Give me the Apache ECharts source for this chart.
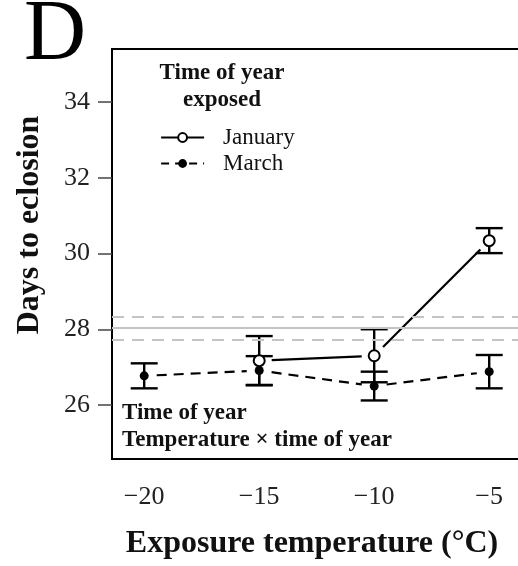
<!DOCTYPE html>
<html>
<head>
<meta charset="utf-8">
<script src="https://cdn.jsdelivr.net/npm/echarts@6/dist/echarts.min.js"></script>
<style>html,body{margin:0;padding:0;background:#fff;}#c{width:518px;height:566px;}</style>
</head>
<body>
<div id="c"></div>
<script>
// ---- data ----
const janTemps = [-15, -10, -5];
const janMean = [27.17, 27.30, 30.34];
const janErr = [0.65, 0.70, 0.33];
const marTemps = [-20, -15, -10, -5];
const marMean = [26.77, 26.91, 26.50, 26.88];
const marErr = [0.33, 0.38, 0.38, 0.44];
const refMean = 28.03;
const refBand = [27.73, 28.33];
const yTicks = [26, 28, 30, 32, 34];
const xTicks = [-20, -15, -10, -5];
const seriesNames = ['January', 'March'];

const serif = '"Liberation Serif", "Times New Roman", serif';

function errData(xs, m, e) {
  return xs.map((x, i) => [x, m[i] - e[i], m[i] + e[i]]);
}
function segData(xs, m) {
  return xs.slice(0, -1).map((x, i) => [x, m[i], xs[i + 1], m[i + 1]]);
}
function errRender(params, api) {
  const x = api.value(0);
  const lo = api.coord([x, api.value(1)]);
  const hi = api.coord([x, api.value(2)]);
  const hw = 13.5;
  const st = { stroke: '#000', lineWidth: 2.4 };
  return {
    type: 'group',
    children: [
      { type: 'line', shape: { x1: lo[0], y1: lo[1], x2: hi[0], y2: hi[1] }, style: st },
      { type: 'line', shape: { x1: lo[0] - hw, y1: lo[1], x2: lo[0] + hw, y2: lo[1] }, style: st },
      { type: 'line', shape: { x1: hi[0] - hw, y1: hi[1], x2: hi[0] + hw, y2: hi[1] }, style: st }
    ]
  };
}
function segRenderer(dash) {
  return function (params, api) {
    const a = api.coord([api.value(0), api.value(1)]);
    const b = api.coord([api.value(2), api.value(3)]);
    const dx = b[0] - a[0], dy = b[1] - a[1];
    const len = Math.sqrt(dx * dx + dy * dy);
    const gap = 12.5;
    const ux = dx / len, uy = dy / len;
    return {
      type: 'line',
      shape: { x1: a[0] + ux * gap, y1: a[1] + uy * gap, x2: b[0] - ux * gap, y2: b[1] - uy * gap },
      style: { stroke: '#000', lineWidth: 2.2, lineDash: dash }
    };
  };
}

const chart = echarts.init(document.getElementById('c'), null, { renderer: 'canvas' });
chart.setOption({
  animation: false,
  backgroundColor: '#fff',
  grid: {
    left: 112, top: 49, width: 414, height: 410,
    outerBoundsMode: 'none', containLabel: false,
    show: true, borderColor: '#000', borderWidth: 2, backgroundColor: 'transparent'
  },
  xAxis: {
    type: 'value', min: -21.4, max: -3.4,
    splitLine: { show: false },
    axisLine: { show: false },
    axisTick: { show: false },
    axisLabel: {
      customValues: xTicks,
      fontFamily: serif, fontSize: 26, color: '#222', margin: 25,
      formatter: v => String(v).replace('-', '\u2212')
    }
  },
  yAxis: {
    type: 'value', min: 24.574, max: 35.40,
    splitLine: { show: false },
    axisLine: { show: true, lineStyle: { color: '#000', width: 2 } },
    axisTick: { show: true, customValues: yTicks, length: 14, lineStyle: { color: '#444', width: 1.5 } },
    axisLabel: { customValues: yTicks, fontFamily: serif, fontSize: 26, color: '#222', margin: 22 }
  },
  legend: {
    show: true,
    data: [
      { name: seriesNames[0], lineStyle: { color: '#000', width: 2.2, type: 'solid', opacity: 1 } },
      { name: seriesNames[1], lineStyle: { color: '#000', width: 2.2, type: [8, 6], opacity: 1 } }
    ],
    orient: 'vertical',
    left: 155, top: 121,
    itemWidth: 43, itemHeight: 11, itemGap: 3,
    textStyle: { fontFamily: serif, fontSize: 23, color: '#111', padding: [0, 0, 0, 14] }
  },
  graphic: [
    { type: 'text', x: 24, y: 36, style: { text: 'D', font: 'normal 86px ' + serif, fill: '#000', textAlign: 'left', textVerticalAlign: 'middle' } },
    { type: 'text', x: 30, y: 225, rotation: Math.PI / 2, style: { text: 'Days to eclosion', font: 'bold 32px ' + serif, fill: '#111', textAlign: 'center', textVerticalAlign: 'middle' } },
    { type: 'text', x: 312, y: 544, style: { text: 'Exposure temperature (\u00B0C)', font: 'bold 32px ' + serif, fill: '#111', textAlign: 'center', textVerticalAlign: 'middle' } },
    { type: 'text', x: 222, y: 73, style: { text: 'Time of year', font: 'bold 23px ' + serif, fill: '#111', textAlign: 'center', textVerticalAlign: 'middle' } },
    { type: 'text', x: 222, y: 100, style: { text: 'exposed', font: 'bold 23px ' + serif, fill: '#111', textAlign: 'center', textVerticalAlign: 'middle' } },
    { type: 'text', x: 122, y: 413, style: { text: 'Time of year', font: 'bold 23px ' + serif, fill: '#111', textAlign: 'left', textVerticalAlign: 'middle' } },
    { type: 'text', x: 122, y: 440, style: { text: 'Temperature \u00D7 time of year', font: 'bold 23px ' + serif, fill: '#111', textAlign: 'left', textVerticalAlign: 'middle' } }
  ],
  series: [
    {
      name: 'ref', type: 'line', data: [], silent: true,
      markLine: {
        silent: true, symbol: 'none', label: { show: false },
        data: [
          { yAxis: refMean, lineStyle: { color: '#c4c4c4', width: 2, type: 'solid' } },
          { yAxis: refBand[0], lineStyle: { color: '#c4c4c4', width: 2, type: [12, 8] } },
          { yAxis: refBand[1], lineStyle: { color: '#c4c4c4', width: 2, type: [12, 8] } }
        ]
      }
    },
    { name: 'errMar', type: 'custom', renderItem: errRender, data: errData(marTemps, marMean, marErr), z: 3 },
    { name: 'errJan', type: 'custom', renderItem: errRender, data: errData(janTemps, janMean, janErr), z: 3 },
    {
      name: 'segMar', type: 'custom', renderItem: segRenderer([10, 7]),
      encode: { x: [0, 2], y: [1, 3] }, data: segData(marTemps, marMean), z: 3
    },
    {
      name: 'segJan', type: 'custom', renderItem: segRenderer(null),
      encode: { x: [0, 2], y: [1, 3] }, data: segData(janTemps, janMean), z: 3
    },
    {
      name: 'March', type: 'line', z: 4,
      data: marTemps.map((x, i) => [x, marMean[i]]),
      symbol: 'circle', symbolSize: 9,
      itemStyle: { color: '#000' },
      lineStyle: { color: '#000', width: 2.2, type: [10, 7], opacity: 0 }
    },
    {
      name: 'January', type: 'line', z: 5,
      data: janTemps.map((x, i) => [x, janMean[i]]),
      symbol: 'circle', symbolSize: 11, showAllSymbol: true,
      itemStyle: { color: '#fff', borderColor: '#000', borderWidth: 2 },
      lineStyle: { color: '#000', width: 2.2, type: 'solid', opacity: 0 }
    }
  ]
});
</script>
</body>
</html>
